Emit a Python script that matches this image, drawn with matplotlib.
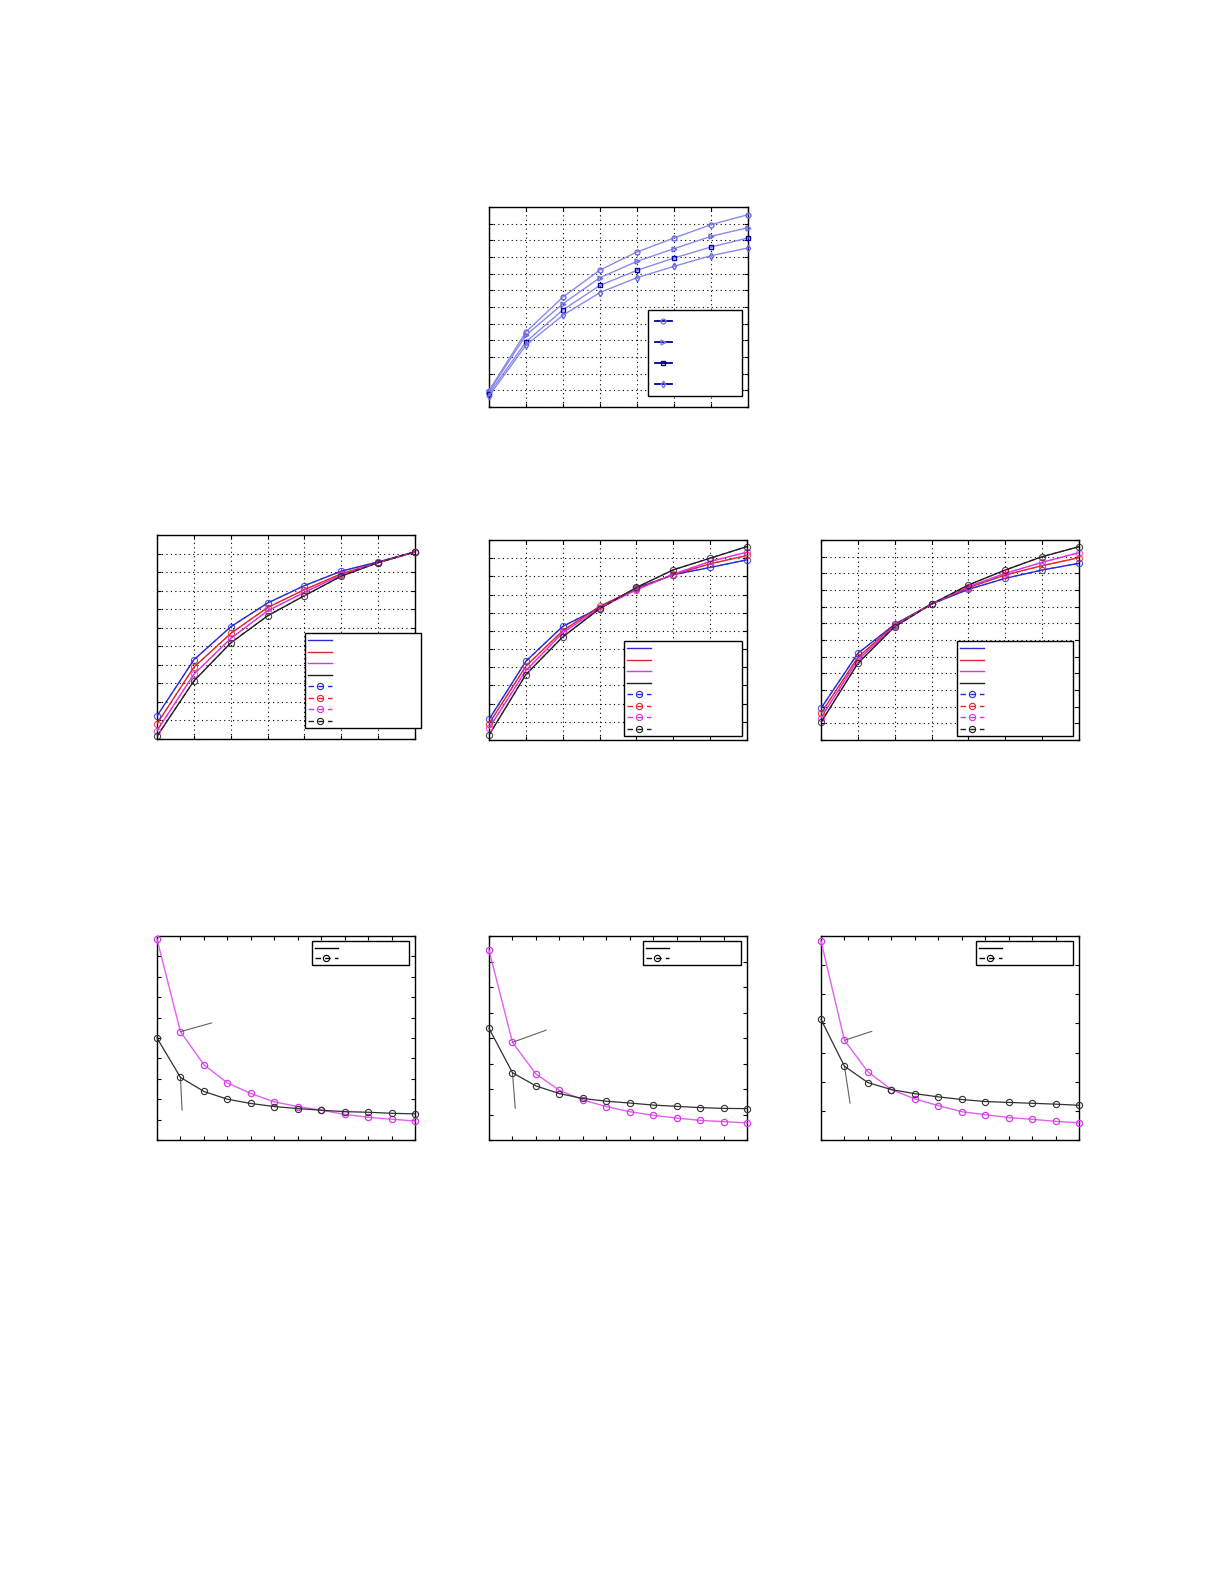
import numpy as np
import matplotlib.pyplot as plt
from matplotlib.lines import Line2D

W, H = 1225, 1585

# ---- dados ----
x8 = [0, 1, 2, 3, 4, 5, 6, 7]
x12 = [0, 1, 2, 3, 4, 5, 6, 7, 8, 9, 10, 11]

# painel superior (4 curvas azuis)
top_o = [0.98, 4.51, 6.60, 8.22, 9.30, 10.14, 10.94, 11.54]
top_tri = [0.92, 4.31, 6.20, 7.76, 8.74, 9.50, 10.24, 10.76]
top_sq = [0.80, 3.91, 5.83, 7.30, 8.20, 8.94, 9.60, 10.14]
top_d = [0.66, 3.71, 5.51, 6.87, 7.76, 8.44, 9.08, 9.54]

# linha do meio: azul, vermelho, magenta, preto
mid1 = {
    "b": [1.24, 4.27, 6.05, 7.33, 8.27, 9.05, 9.55, 10.09],
    "r": [0.82, 3.87, 5.69, 7.09, 8.05, 8.91, 9.51, 10.09],
    "m": [0.45, 3.49, 5.42, 6.91, 7.91, 8.85, 9.51, 10.09],
    "k": [0.15, 3.13, 5.18, 6.64, 7.73, 8.78, 9.51, 10.09],
}
mid2 = {
    "b": [1.13, 4.33, 6.25, 7.26, 8.35, 9.09, 9.49, 9.91],
    "r": [0.90, 4.06, 6.01, 7.35, 8.32, 9.09, 9.69, 10.15],
    "m": [0.64, 3.82, 5.89, 7.26, 8.26, 9.12, 9.82, 10.33],
    "k": [0.27, 3.60, 5.67, 7.22, 8.39, 9.36, 10.00, 10.64],
}
mid3 = {
    "b": [1.90, 5.20, 6.94, 8.16, 9.04, 9.70, 10.20, 10.60],
    "r": [1.60, 4.96, 6.90, 8.16, 9.14, 9.90, 10.46, 10.94],
    "m": [1.34, 4.80, 6.84, 8.16, 9.20, 10.00, 10.66, 11.24],
    "k": [1.06, 4.60, 6.80, 8.16, 9.30, 10.20, 11.00, 11.60],
}

# linha de baixo: magenta e preto
bot_m = [
    [9.84, 5.31, 3.69, 2.80, 2.28, 1.87, 1.64, 1.46, 1.26, 1.11, 1.02, 0.93],
    [7.45, 3.83, 2.59, 1.95, 1.57, 1.31, 1.11, 0.97, 0.86, 0.77, 0.72, 0.67],
    [6.83, 3.42, 2.34, 1.73, 1.41, 1.18, 0.97, 0.87, 0.77, 0.71, 0.64, 0.59],
]
bot_k = [
    [5.00, 3.07, 2.38, 2.00, 1.79, 1.64, 1.54, 1.46, 1.39, 1.36, 1.31, 1.28],
    [4.38, 2.64, 2.12, 1.82, 1.63, 1.52, 1.45, 1.37, 1.32, 1.27, 1.24, 1.23],
    [4.14, 2.53, 1.97, 1.73, 1.59, 1.48, 1.39, 1.32, 1.29, 1.26, 1.23, 1.19],
]
bot_ylim = [10, 8, 7]
# anotações (setas sem texto): ponto -> texto
bot_ann_m = [((1, 5.31), (2.33, 5.74)), ((1, 3.83), (2.44, 4.31)), ((1, 3.42), (2.17, 3.73))]
bot_ann_k = [((1, 3.07), (1.07, 1.46)), ((1, 2.64), (1.12, 1.24)), ((1, 2.53), (1.24, 1.26))]

cores = {"b": "#2a2ad8", "r": "#e02828", "m": "#e030e8", "k": "#202020"}
mag_light = "#e060f0"
tracejado = (0, (4, 3))

fig = plt.figure(figsize=(W / 100, H / 100), dpi=100)


def eixo(x0, x1, y0, y1):
    return fig.add_axes([x0 / W, 1 - y1 / H, (x1 - x0) / W, (y1 - y0) / H])


def estilo(ax, nx, ny, grade=True):
    ax.set_xlim(0, nx)
    ax.set_ylim(0, ny)
    ax.set_xticks(range(nx + 1))
    ax.set_yticks(range(ny + 1))
    ax.set_xticklabels([])
    ax.set_yticklabels([])
    ax.tick_params(direction="in", length=3, width=0.8, top=True, right=True)
    for s in ax.spines.values():
        s.set_linewidth(1.0)
    if grade:
        ax.grid(True, color="black", linestyle=(0, (1, 3)), linewidth=0.8)


def legenda(ax, handles, box, fs, lsp, bpad, hlen):
    x0, x1, y0, y1 = box
    leg = ax.legend(handles, [" "] * len(handles), loc="upper left",
                    bbox_to_anchor=(x0 / W, 1 - y0 / H, (x1 - x0) / W, 0),
                    bbox_transform=fig.transFigure, mode="expand",
                    borderaxespad=0, fontsize=fs, labelspacing=lsp,
                    borderpad=bpad, handlelength=hlen, fancybox=False,
                    framealpha=1, edgecolor="black")
    leg.get_frame().set_linewidth(1.0)
    return leg


# ---- painel superior ----
ax = eixo(489, 748, 207, 407)
estilo(ax, 7, 12)
linha_top = "#8a8aec"
for y, mk, ec in [(top_o, "o", "#6a6ae0"), (top_tri, ">", "#6a6ae0"),
                  (top_sq, "s", "#0000b0"), (top_d, "d", "#6a6ae0")]:
    ax.plot(x8, y, color=linha_top, lw=1.0, marker=mk, ms=3.5,
            mfc="none", mec=ec, mew=1.0, clip_on=False, zorder=3)
h_top = [Line2D([], [], color="#00009c", lw=1.3, marker=m, ms=3.5, mfc="none",
                mec=ec, mew=1.0)
         for m, ec in [("o", "#7a7ae8"), (">", "#7a7ae8"), ("s", "#00009c"), ("d", "#7a7ae8")]]
legenda(ax, h_top, (648, 742, 310, 398), 6, 1.45, 0.85, 2.0)

# ---- linha do meio ----
caixas_mid = [(157, 415, 535, 739), (489, 747, 540, 740), (821, 1079, 540, 740)]
ylims_mid = [11, 11, 12]
legs_mid = [(305, 421, 633, 734), (624, 742, 641, 736), (957, 1073, 641, 736)]
for dados, cx, ny, lb in zip([mid1, mid2, mid3], caixas_mid, ylims_mid, legs_mid):
    ax = eixo(*cx)
    estilo(ax, 7, ny)
    for k in ["b", "r", "m", "k"]:
        ax.plot(x8, dados[k], color=cores[k], lw=1.0, zorder=3)
    for k in ["b", "r", "m", "k"]:
        ax.plot(x8, dados[k], color=cores[k], lw=0.8, ls=tracejado, marker="o",
                ms=4.5, mfc="none", mew=0.8, alpha=0.8, clip_on=False, zorder=4)
    hs = [Line2D([], [], color=cores[k], lw=1.0) for k in ["b", "r", "m", "k"]]
    hs += [Line2D([], [], color=cores[k], lw=1.0, ls=tracejado, marker="o", ms=4.5,
                  mfc="none", mew=0.8) for k in ["b", "r", "m", "k"]]
    legenda(ax, hs, lb, 6, 0.3, 0.35, 2.9)

# ---- linha de baixo ----
caixas_bot = [(157, 415, 936, 1140), (489, 747, 936, 1140), (821, 1079, 936, 1140)]
legs_bot = [(312, 409, 941, 966), (643, 741, 941, 966), (976, 1073, 941, 966)]
for i in range(3):
    ax = eixo(*caixas_bot[i])
    estilo(ax, 11, bot_ylim[i], grade=False)
    ax.plot(x12, bot_m[i], color=mag_light, lw=1.0, marker="o", ms=4.5,
            mfc="none", mec="#d838e8", mew=0.9, clip_on=False, zorder=3)
    ax.plot(x12, bot_k[i], color="#303030", lw=0.9, marker="o", ms=4.5,
            mfc="none", mec="#303030", mew=0.8, clip_on=False, zorder=4)
    for (p, t) in [bot_ann_m[i], bot_ann_k[i]]:
        ax.annotate("", xy=p, xytext=t,
                    arrowprops=dict(arrowstyle="-", color="#606060", lw=0.8,
                                    shrinkA=0, shrinkB=0))
    hs = [Line2D([], [], color="black", lw=1.0),
          Line2D([], [], color="black", lw=1.0, ls=tracejado, marker="o", ms=4.5,
                 mfc="none", mew=0.8)]
    legenda(ax, hs, legs_bot[i], 6, 0.12, 0.3, 2.8)

fig.savefig("out.png", dpi=100)
